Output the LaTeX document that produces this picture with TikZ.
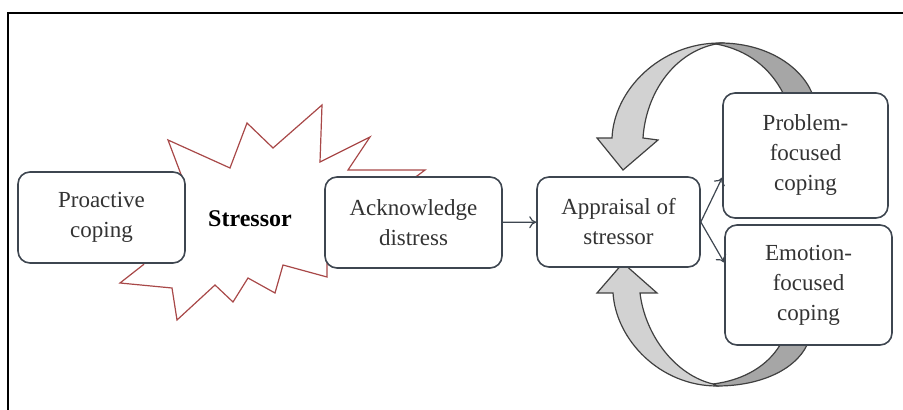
\documentclass[tikz,border=0pt]{standalone}
\usepackage{fontspec}
\setmainfont{Liberation Serif}
\usetikzlibrary{calc,arrows.meta}
\definecolor{boxline}{HTML}{3E4650}
\definecolor{boxtext}{HTML}{333333}
\definecolor{burstline}{HTML}{A84848}
\definecolor{ribbonlight}{HTML}{D2D2D2}
\definecolor{ribbondark}{HTML}{A6A6A6}
\begin{document}
\begin{tikzpicture}[x=0.5pt,y=-0.5pt,>={To[length=3.5pt,width=6pt]},
    stage/.style={draw=boxline,line width=0.8pt,fill=white,rounded corners=6pt,
        align=center,text=boxtext,font=\fontsize{11.5}{15}\selectfont,inner sep=2pt},
    ribbon/.style={draw=black!75,line width=0.6pt},
    link/.style={->,boxline,line width=0.6pt}]
            \useasboundingbox (0,0) rectangle (903,410);
            \clip (0,0) rectangle (903,410);

            % Outer frame (cut at the right and bottom)
            \draw[line width=1.1pt] (8,420) -- (8,13) -- (910,13);

            % Stressor burst
            \draw[burstline,fill=white,line width=0.6pt,line join=miter]
                (168,140) -- (230,168) -- (247,123) -- (273,148) -- (322,105)
                -- (320,162) -- (370,137) -- (348,170) -- (425,170) -- (417,176)
                -- (345,215) -- (327,260) -- (327,277) -- (283,265) -- (275,293)
                -- (248,278) -- (233,302) -- (215,285) -- (177,320) -- (172,288)
                -- (120,283) -- (143,265) -- (170,230) -- (185,185) -- cycle;
            \node[font=\fontsize{12}{15}\selectfont\bfseries] (stressor) at (250,219) {Stressor};

            % Curved arrow from the top
            \filldraw[ribbon,fill=ribbondark] (720,43) .. controls (765,43) and (800,65) .. (812,93)
                -- (783,93) .. controls (770,68) and (748,50) .. (716,44) -- cycle;
            \filldraw[ribbon,fill=ribbonlight] (720,43) .. controls (660,43) and (614,90) .. (612,138)
                -- (597,138) -- (623,170) -- (658,140) -- (643,138)
                .. controls (646,92) and (675,52) .. (716,44) -- cycle;

            % Curved arrow from the bottom
            \filldraw[ribbon,fill=ribbondark] (717,386) .. controls (760,386) and (795,370) .. (807,345)
                -- (780,345) .. controls (768,365) and (745,380) .. (713,384) -- cycle;
            \filldraw[ribbon,fill=ribbonlight] (717,386) .. controls (660,386) and (616,340) .. (613,293)
                -- (597,293) -- (623,263) -- (657,293) -- (640,293)
                .. controls (645,335) and (675,375) .. (713,384) -- cycle;

            % Boxes
            \node[stage,minimum width=83.5pt,minimum height=45.5pt] (proactive) at (101.5,217.5) {Proactive\\coping};
            \node[stage,minimum width=88.5pt,minimum height=45.5pt] (acknowledge) at (413.5,222.5) {Acknowledge\\distress};
            \node[stage,minimum width=81.5pt,minimum height=45pt] (appraisal) at (618.5,222) {Appraisal of\\stressor};
            \node[stage,minimum width=82.5pt,minimum height=62.5pt] (problem) at (805.5,155.5) {Problem-\\focused\\coping};
            \node[stage,minimum width=83.5pt,minimum height=60pt] (emotion) at (808.5,285) {Emotion-\\focused\\coping};

            % Connectors
            \draw[link] (acknowledge) -- (appraisal);
            \draw[link] (appraisal.east) -- ($(problem.west)!0.35!(problem.south west)$);
            \draw[link] (appraisal.east) -- ($(emotion.west)!0.37!(emotion.north west)$);
        \end{tikzpicture}
\end{document}
